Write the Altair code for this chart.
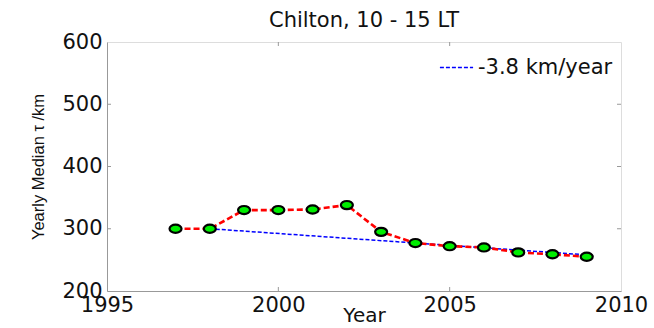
import altair as alt
import pandas as pd

years = [1997, 1998, 1999, 2000, 2001, 2002, 2003, 2004, 2005, 2006, 2007, 2008, 2009]
medians = [300, 300, 330, 330, 331, 338, 295, 277, 272, 270, 262, 259, 255]
trend_years = [1998, 2009]
trend_vals = [300, 258]
trend_label = "-3.8 km/year"
x_ticks = [1995, 2000, 2005, 2010]
y_ticks = [200, 300, 400, 500, 600]

df = pd.DataFrame({"Year": years, "tau": medians})
tr = pd.DataFrame({"Year": trend_years, "tau": trend_vals, "s": [trend_label] * 2})
xt = pd.DataFrame({"Year": x_ticks[1:-1]})
yt = pd.DataFrame({"tau": y_ticks[1:-1]})

FONT = "DejaVu Sans"
xs = alt.Scale(domain=[1995, 2010], nice=False, zero=False)
ys = alt.Scale(domain=[200, 600], nice=False, zero=False)

xax = alt.Axis(values=x_ticks, format="d", title="Year", grid=False, tickSize=0,
               labelFontSize=21, titleFontSize=20, labelFont=FONT, titleFont=FONT,
               labelColor="#111111", titleColor="#111111", domainColor="#999999",
               labelPadding=3, titlePadding=-10, titleFontWeight="normal", labelFlush=False)
yax = alt.Axis(values=y_ticks, title="Yearly Median τ /km", grid=False, tickSize=0,
               labelFontSize=21, titleFontSize=16.5, labelFont=FONT, titleFont="Liberation Sans",
               labelColor="#111111", titleColor="#111111", domainColor="#999999",
               labelPadding=5, titlePadding=15, titleFontWeight="normal")

ELLIPSE = "M -1 0 A 1 0.68 0 1 0 1 0 A 1 0.68 0 1 0 -1 0 Z"

base = alt.Chart(df)

trend = alt.Chart(tr).mark_line(strokeDash=[4, 2], strokeWidth=1.5).encode(
    x=alt.X("Year:Q", scale=xs, axis=xax),
    y=alt.Y("tau:Q", scale=ys, axis=yax),
    color=alt.Color("s:N", scale=alt.Scale(domain=[trend_label], range=["#0000ff"]),
                    legend=alt.Legend(title=None, orient="top-right", offset=4,
                                      labelFontSize=21, labelFont=FONT, labelColor="#111111",
                                      symbolType="stroke", symbolStrokeWidth=1.5,
                                      symbolDash=[4, 2], symbolSize=1100, labelOffset=4,
                                      padding=4)),
)

line = base.mark_line(color="#ff0000", strokeDash=[6, 3], strokeWidth=2.6).encode(
    x=alt.X("Year:Q", scale=xs), y=alt.Y("tau:Q", scale=ys))
pts = base.mark_point(filled=True, fill="#00ee00", stroke="black", strokeWidth=2.2,
                      size=144, opacity=1, shape=ELLIPSE).encode(
    x=alt.X("Year:Q", scale=xs), y=alt.Y("tau:Q", scale=ys))

tk_bottom = alt.Chart(xt).mark_rule(color="#999999").encode(
    x=alt.X("Year:Q", scale=xs), y=alt.value(249), y2=alt.value(245))
tk_top = alt.Chart(xt).mark_rule(color="#999999").encode(
    x=alt.X("Year:Q", scale=xs), y=alt.value(0), y2=alt.value(4))
tk_left = alt.Chart(yt).mark_rule(color="#999999").encode(
    y=alt.Y("tau:Q", scale=ys), x=alt.value(0), x2=alt.value(4))
tk_right = alt.Chart(yt).mark_rule(color="#999999").encode(
    y=alt.Y("tau:Q", scale=ys), x=alt.value(514), x2=alt.value(510))

chart = alt.layer(tk_bottom, tk_top, tk_left, tk_right, trend, line, pts).properties(
    width=514, height=249,
    title=alt.Title("Chilton, 10 - 15 LT", fontSize=21, font=FONT, fontWeight="normal",
                    color="#111111", offset=0),
    padding={"left": 107, "top": 42, "right": 33, "bottom": 37},
    autosize=alt.AutoSizeParams(type="none"),
).configure_view(stroke="#999999", strokeWidth=1).configure(background="white")

chart.save("out.html", embed_options={"renderer": "svg", "actions": False})
